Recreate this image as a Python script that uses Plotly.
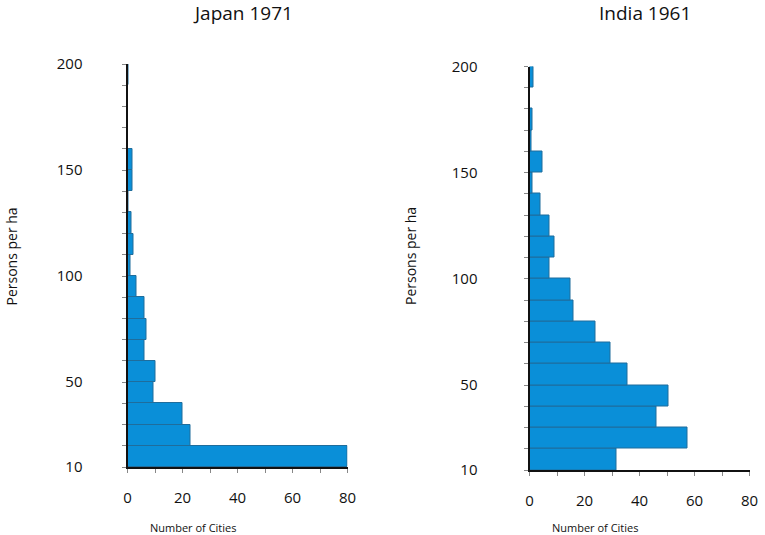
import plotly.graph_objects as go

# Bin lower edges (persons per ha), bins of width 10 from 10 to 200
bin_lower = list(range(10, 200, 10))
bin_width = 10

japan_counts = [80, 23, 20, 9.5, 10, 6, 7, 6, 3.2, 1, 2.2, 1.6, 0.3, 1.8, 1.8, 0, 0, 0, 0.4]
india_counts = [31.5, 57.5, 46, 50.5, 35.5, 29.5, 24, 16, 15, 7.3, 9, 7.2, 4, 1.2, 4.6, 0.6, 1, 0, 1.5]

titles = ["Japan 1971", "India 1961"]
y_ticks = list(range(10, 201, 10))
y_labels = ["10", "50", "100", "150", "200"]
x_ticks = list(range(0, 81, 10))
x_labels = ["0", "20", "40", "60", "80"]

W, H = 765, 535
FONT = "Open Sans"
BAR = "#0a8fd8"
EDGE = "#1f6d9c"

centers = [b + bin_width / 2 for b in bin_lower]

fig = go.Figure()
fig.add_trace(go.Bar(x=japan_counts, y=centers, width=bin_width, orientation="h",
                     marker=dict(color=BAR, line=dict(color=EDGE, width=1)),
                     xaxis="x", yaxis="y", showlegend=False))
fig.add_trace(go.Bar(x=india_counts, y=centers, width=bin_width, orientation="h",
                     marker=dict(color=BAR, line=dict(color=EDGE, width=1)),
                     xaxis="x2", yaxis="y2", showlegend=False))

def ytext():
    return [str(v) if str(v) in y_labels else "" for v in y_ticks]

def xtext():
    return [str(v) if str(v) in x_labels else "" for v in x_ticks]

def px(x):
    return x / W

def py(y):
    return 1 - y / H

# pixel geometry (reference picture coordinates)
panels = [
    dict(x0=127.5, x1=347.5, y0=64, y1=467, lab_off=36, ytitle_x=11),
    dict(x0=529.5, x1=749.5, y0=66.5, y1=470, lab_off=43, ytitle_x=410.5),
]

layout = dict(width=W, height=H, margin=dict(l=0, r=0, t=0, b=0, autoexpand=False),
              plot_bgcolor="white", paper_bgcolor="white",
              font=dict(family=FONT, color="#111"), bargap=0)
annotations = []
for i, p in enumerate(panels):
    sx = "" if i == 0 else "2"
    layout["xaxis" + sx] = dict(
        domain=[px(p["x0"]), px(p["x1"])], range=[0, 80], anchor="y" + sx,
        tickmode="array", tickvals=x_ticks, ticktext=xtext(),
        ticks="outside", ticklen=4, tickcolor="#888", tickwidth=1,
        showline=True, linecolor="#111", linewidth=2, showgrid=False, zeroline=False,
        tickfont=dict(size=15, family=FONT), ticklabelstandoff=12, fixedrange=True,
        automargin=False)
    layout["yaxis" + sx] = dict(
        domain=[py(p["y1"]), py(p["y0"])], range=[10, 200], anchor="x" + sx,
        tickmode="array", tickvals=y_ticks, ticktext=ytext(),
        ticks="outside", ticklen=4, tickcolor="#888", tickwidth=1,
        showline=True, linecolor="#111", linewidth=2, showgrid=False, zeroline=False,
        tickfont=dict(size=15, family=FONT), ticklabelstandoff=p["lab_off"], fixedrange=True,
        automargin=False)
    cx = (p["x0"] + p["x1"]) / 2
    annotations.append(dict(text=titles[i], x=px(cx + 5), y=py(13.5), xref="paper", yref="paper",
                            showarrow=False, font=dict(size=19, family=FONT), xanchor="center", yanchor="middle"))
    annotations.append(dict(text="Number of Cities", x=px(p["x0"] + 65), y=py(527.5),
                            xref="paper", yref="paper", showarrow=False,
                            font=dict(size=11, family=FONT), xanchor="center", yanchor="middle"))
    annotations.append(dict(text="Persons per ha", x=px(p["ytitle_x"]), y=py(256.5),
                            xref="paper", yref="paper", showarrow=False, textangle=-90,
                            font=dict(size=14, family=FONT), xanchor="center", yanchor="middle"))
layout["annotations"] = annotations
fig.update_layout(**layout)
fig.write_html("out.html", config={"displayModeBar": False},
               post_script="document.body.style.margin='0px';")
